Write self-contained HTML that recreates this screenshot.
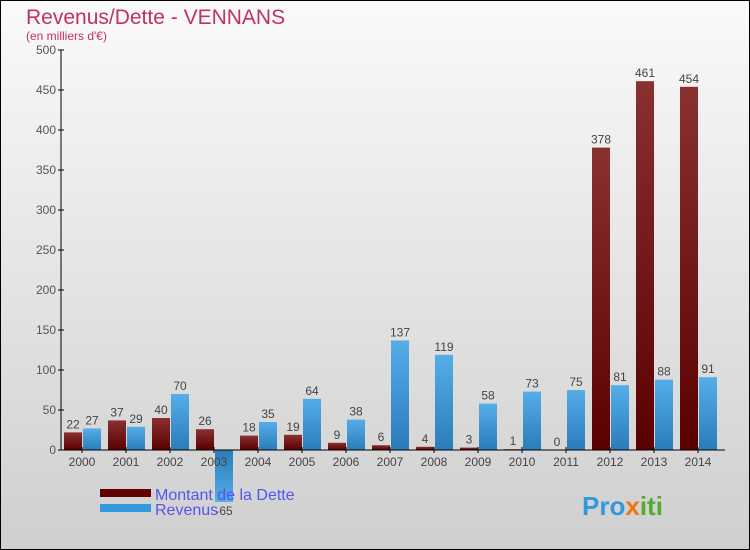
<!DOCTYPE html>
<html><head><meta charset="utf-8"><style>
body{margin:0;width:750px;height:550px;overflow:hidden;font-family:"Liberation Sans",sans-serif}
svg{display:block}
</style></head><body>
<svg id="chart" width="750" height="550">
<defs>
<linearGradient id="bg" x1="0" y1="0" x2="0" y2="1"><stop offset="0" stop-color="#fafafa"/><stop offset="1" stop-color="#cfcfcf"/></linearGradient>
<linearGradient id="red" x1="0" y1="0" x2="0" y2="1"><stop offset="0" stop-color="#8b3030"/><stop offset="1" stop-color="#5a0000"/></linearGradient>
<linearGradient id="blue" x1="0" y1="0" x2="0" y2="1"><stop offset="0" stop-color="#55aee8"/><stop offset="1" stop-color="#2a7cb8"/></linearGradient>
<linearGradient id="blueneg" x1="0" y1="0" x2="0" y2="1"><stop offset="0" stop-color="#2a7cb8"/><stop offset="1" stop-color="#55aee8"/></linearGradient>
</defs>
<rect x="0.5" y="0.5" width="749" height="549" fill="url(#bg)" stroke="#000"/>
<text x="26" y="24" font-size="21" fill="#c0306a">Revenus/Dette - VENNANS</text>
<text x="26" y="40" font-size="12" fill="#c0306a">(en milliers d'€)</text>
<g id="grid"></g>
<g id="bars"></g>
<g id="axes"></g>
<g>
<rect x="100" y="489" width="51" height="8" fill="#600000"/>
<text x="155" y="500" font-size="16" fill="#5555ee">Montant de la Dette</text>
<rect x="100" y="504" width="51" height="8" fill="#3399dd"/>
<text x="155" y="515" font-size="16" fill="#5555ee">Revenus</text>
</g>
<g>
<text x="582" y="515" font-size="26" font-weight="bold" fill="#3399dd">Pro<tspan fill="#ee7711">x</tspan><tspan fill="#55aa33">iti</tspan></text>
</g>
</svg>
<script>
const years=["2000","2001","2002","2003","2004","2005","2006","2007","2008","2009","2010","2011","2012","2013","2014"];
const dette=[22,37,40,26,18,19,9,6,4,3,1,0,378,461,454];
const revenus=[27,29,70,-65,35,64,38,137,119,58,73,75,81,88,91];
const yTicks=[0,50,100,150,200,250,300,350,400,450,500];
const NS="http://www.w3.org/2000/svg";
const y0=450, k=0.8, x0=82, step=44, bw=18;
const ys=v=>y0-v*k;
const xs=i=>x0+i*step;
function el(t,a,p){const e=document.createElementNS(NS,t);for(const n in a)e.setAttribute(n,a[n]);p.appendChild(e);return e;}
const axes=document.getElementById('axes'),bars=document.getElementById('bars');
let a=el('line',{x1:61,y1:50,x2:61,y2:450,stroke:'#000'},axes);


a=el('line',{x1:61,y1:450,x2:725,y2:450,stroke:'#000'},axes);


yTicks.forEach(v=>{
 const t=el('line',{x1:58,y1:ys(v),x2:64,y2:ys(v),stroke:'#000'},axes);
 
 
 const l=el('text',{x:56,y:ys(v)+4,'font-size':12,fill:'#555','text-anchor':'end'},axes);
 l.textContent=v;
 
 
});
years.forEach((yr,i)=>{
 const c=xs(i);
 const t=el('line',{x1:c,y1:447,x2:c,y2:453,stroke:'#000'},axes);
 
 
 const l=el('text',{x:c,y:466,'font-size':12,fill:'#444','text-anchor':'middle'},axes);
 l.textContent=yr;
 
 
 const d=dette[i];
 const r1=el('rect',{x:c-bw,y:ys(d),width:bw,height:Math.max(0,d*k),fill:'url(#red)'},bars);
 
 
 const t1=el('text',{x:c-bw/2,y:ys(d)-4,'font-size':12,fill:'#444','text-anchor':'middle'},bars);
 t1.textContent=d;
 
 
 const r=revenus[i];
 const top=r>=0?ys(r):y0, h=Math.abs(r)*k;
 const r2=el('rect',{x:c+1,y:top,width:bw,height:h,fill:r>=0?'url(#blue)':'url(#blueneg)'},bars);
 
 
 const t2=el('text',{x:c+1+bw/2,y:r>=0?ys(r)-4:y0+h+13,'font-size':12,fill:'#444','text-anchor':'middle'},bars);
 t2.textContent=r;
 
 
});
</script>
</body></html>
